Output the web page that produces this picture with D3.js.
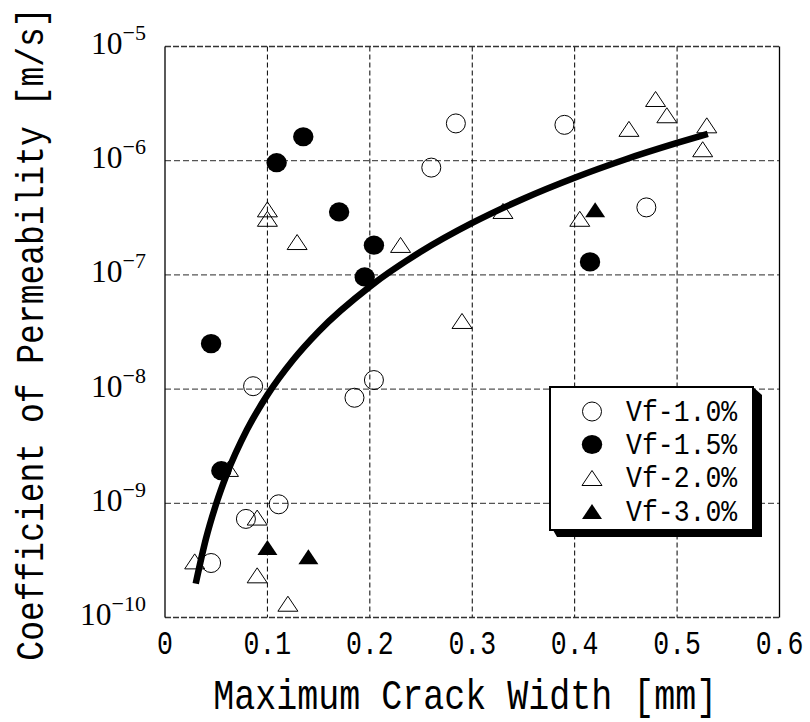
<!DOCTYPE html>
<html>
<head>
<meta charset="utf-8">
<script src="https://cdn.jsdelivr.net/npm/d3@7"></script>
<style>
  html, body { margin: 0; padding: 0; background: #fff; }
  svg { display: block; }
</style>
</head>
<body>
<svg id="chart" width="810" height="722"></svg>
<script>
// Crack width [mm] vs coefficient of permeability [m/s], by fibre volume fraction
const vf10 = [ // open circles
  [0.045, 3.0e-10], [0.079, 7.3e-10], [0.111, 9.8e-10], [0.086, 1.06e-8],
  [0.185, 8.4e-9], [0.204, 1.2e-8], [0.260, 8.7e-7], [0.284, 2.12e-6],
  [0.390, 2.06e-6], [0.470, 3.9e-7]
];
const vf15 = [ // filled circles
  [0.045, 2.5e-8], [0.055, 1.93e-9], [0.109, 9.6e-7], [0.135, 1.62e-6],
  [0.170, 3.56e-7], [0.204, 1.82e-7], [0.195, 9.6e-8], [0.415, 1.3e-7]
];
const vf20 = [ // open triangles
  [0.029, 3.1e-10], [0.062, 2.0e-9], [0.090, 7.5e-10], [0.090, 2.34e-10],
  [0.120, 1.32e-10], [0.100, 3.75e-7], [0.100, 3.1e-7], [0.129, 1.94e-7],
  [0.230, 1.83e-7], [0.290, 3.95e-8], [0.330, 3.63e-7], [0.405, 3.1e-7],
  [0.453, 1.9e-6], [0.479, 3.47e-6], [0.490, 2.5e-6], [0.529, 2.04e-6],
  [0.525, 1.26e-6]
];
const vf30 = [ // filled triangles
  [0.100, 4.1e-10], [0.140, 3.4e-10], [0.420, 3.72e-7]
];
// Regression curve through all data
const fitCurve = [
  [0.030, 1.98e-10], [0.040, 4.9e-10], [0.050, 9.9e-10], [0.060, 1.77e-9],
  [0.080, 4.4e-9], [0.100, 8.9e-9], [0.125, 1.8e-8], [0.150, 3.2e-8],
  [0.200, 7.9e-8], [0.250, 1.6e-7], [0.300, 2.85e-7], [0.350, 4.65e-7],
  [0.400, 7.1e-7], [0.450, 1.03e-6], [0.500, 1.43e-6], [0.530, 1.72e-6]
];
const xTicks = [0, 0.1, 0.2, 0.3, 0.4, 0.5, 0.6];
const xTickLabels = ["0", "0.1", "0.2", "0.3", "0.4", "0.5", "0.6"];
const yTicks = [1e-10, 1e-9, 1e-8, 1e-7, 1e-6, 1e-5];
const yExponents = ["−10", "−9", "−8", "−7", "−6", "−5"];
const legendLabels = ["Vf-1.0%", "Vf-1.5%", "Vf-2.0%", "Vf-3.0%"];

const svg = d3.select("#chart");
const pL = 165, pR = 779.5, pT = 46.5, pB = 617.5;
const x = d3.scaleLinear().domain([0, 0.6]).range([pL, pR]);
const y = d3.scaleLog().domain([1e-10, 1e-5]).range([pB, pT]);

const MONO = "'Liberation Mono', monospace";

// monospace text stretched vertically for tall, narrow glyphs
function monoText(g, tx, ty, str, size, anchor, sy, rotate) {
  return g.append("text")
    .attr("transform", `translate(${tx},${ty})` + (rotate ? ` rotate(${rotate})` : "") + ` scale(1,${sy})`)
    .attr("font-family", MONO)
    .attr("font-size", size)
    .attr("fill", "#000")
    .attr("text-anchor", anchor || "start")
    .text(str);
}

// grid
const grid = svg.append("g");
grid.selectAll("line.h").data(yTicks.slice(1, -1)).join("line")
  .attr("x1", pL).attr("x2", pR)
  .attr("y1", d => y(d)).attr("y2", d => y(d))
  .attr("stroke", "#555").attr("stroke-width", 1.2).attr("stroke-dasharray", "6,3");
grid.selectAll("line.v").data(xTicks.slice(1, -1)).join("line")
  .attr("x1", d => x(d)).attr("x2", d => x(d))
  .attr("y1", pT).attr("y2", pB)
  .attr("stroke", "#000").attr("stroke-width", 1).attr("stroke-dasharray", "5,3");

// frame
svg.append("line").attr("x1", pL).attr("x2", pR).attr("y1", pT).attr("y2", pT)
  .attr("stroke", "#333").attr("stroke-width", 1.3).attr("stroke-dasharray", "6,2");
svg.append("line").attr("x1", pL).attr("x2", pR).attr("y1", pB).attr("y2", pB)
  .attr("stroke", "#333").attr("stroke-width", 1.3).attr("stroke-dasharray", "6,2");
svg.append("line").attr("x1", pL).attr("x2", pL).attr("y1", pT).attr("y2", pB)
  .attr("stroke", "#000").attr("stroke-width", 1.3);
svg.append("line").attr("x1", pR).attr("x2", pR).attr("y1", pT).attr("y2", pB)
  .attr("stroke", "#000").attr("stroke-width", 1.3);

// x tick labels
const xl = svg.append("g");
xTicks.forEach((v, i) => monoText(xl, x(v), 654, xTickLabels[i], 26.5, "middle", 1.25));

// y tick labels: 10 with superscript exponent
const yl = svg.append("g").attr("font-family", "'Liberation Serif', 'DejaVu Serif', serif");
yTicks.forEach((v, i) => {
  const t = yl.append("text").attr("x", 146).attr("y", y(v) + 7.5)
    .attr("text-anchor", "end").attr("fill", "#000");
  t.append("tspan").attr("font-size", 31.5).text("10");
  t.append("tspan").attr("font-size", 22).attr("dy", -14).text(yExponents[i]);
});

// axis titles
monoText(svg, (pL + pR) / 2 - 7, 709, "Maximum Crack Width [mm]", 35, "middle", 1.2);
monoText(svg, 43, 334, "Coefficient of Permeability [m/s]", 33, "middle", 1.2, -90);

// regression curve
svg.append("path").datum(fitCurve)
  .attr("d", d3.line().x(d => x(d[0])).y(d => y(d[1])).curve(d3.curveMonotoneX))
  .attr("fill", "none").attr("stroke", "#000").attr("stroke-width", 6.5);

// markers
const tri = "M0,-7.5L10,7.5L-10,7.5Z";
const marks = svg.append("g");
marks.selectAll("circle.o").data(vf10).join("circle")
  .attr("cx", d => x(d[0])).attr("cy", d => y(d[1])).attr("r", 9.5)
  .attr("fill", "none").attr("stroke", "#000").attr("stroke-width", 1);
marks.selectAll("ellipse.f").data(vf15).join("ellipse")
  .attr("cx", d => x(d[0])).attr("cy", d => y(d[1])).attr("rx", 10.2).attr("ry", 9.6)
  .attr("fill", "#000");
marks.selectAll("path.t").data(vf20).join("path")
  .attr("transform", d => `translate(${x(d[0])},${y(d[1])})`).attr("d", tri)
  .attr("fill", "none").attr("stroke", "#000").attr("stroke-width", 1);
marks.selectAll("path.ft").data(vf30).join("path")
  .attr("transform", d => `translate(${x(d[0])},${y(d[1])})`).attr("d", tri)
  .attr("fill", "#000");

// legend with drop shadow
const lg = svg.append("g");
lg.append("path").attr("d", "M553,530 L557,537 L762,537 L762,395 L753,387 L753,530 Z").attr("fill", "#000");
lg.append("rect").attr("x", 550).attr("y", 387).attr("width", 203).attr("height", 143)
  .attr("fill", "#fff").attr("stroke", "#000").attr("stroke-width", 2);
const rows = [411.5, 444.5, 478, 511.5];
lg.append("circle").attr("cx", 592).attr("cy", rows[0]).attr("r", 9.5)
  .attr("fill", "none").attr("stroke", "#000").attr("stroke-width", 1);
lg.append("ellipse").attr("cx", 592).attr("cy", rows[1]).attr("rx", 10.2).attr("ry", 9.6).attr("fill", "#000");
lg.append("path").attr("transform", `translate(592,${rows[2]})`).attr("d", tri)
  .attr("fill", "none").attr("stroke", "#000").attr("stroke-width", 1);
lg.append("path").attr("transform", `translate(592,${rows[3]})`).attr("d", tri).attr("fill", "#000");
legendLabels.forEach((s, i) => monoText(lg, 626, rows[i] + 9, s, 26.5, "start", 1.1));
</script>
</body>
</html>
